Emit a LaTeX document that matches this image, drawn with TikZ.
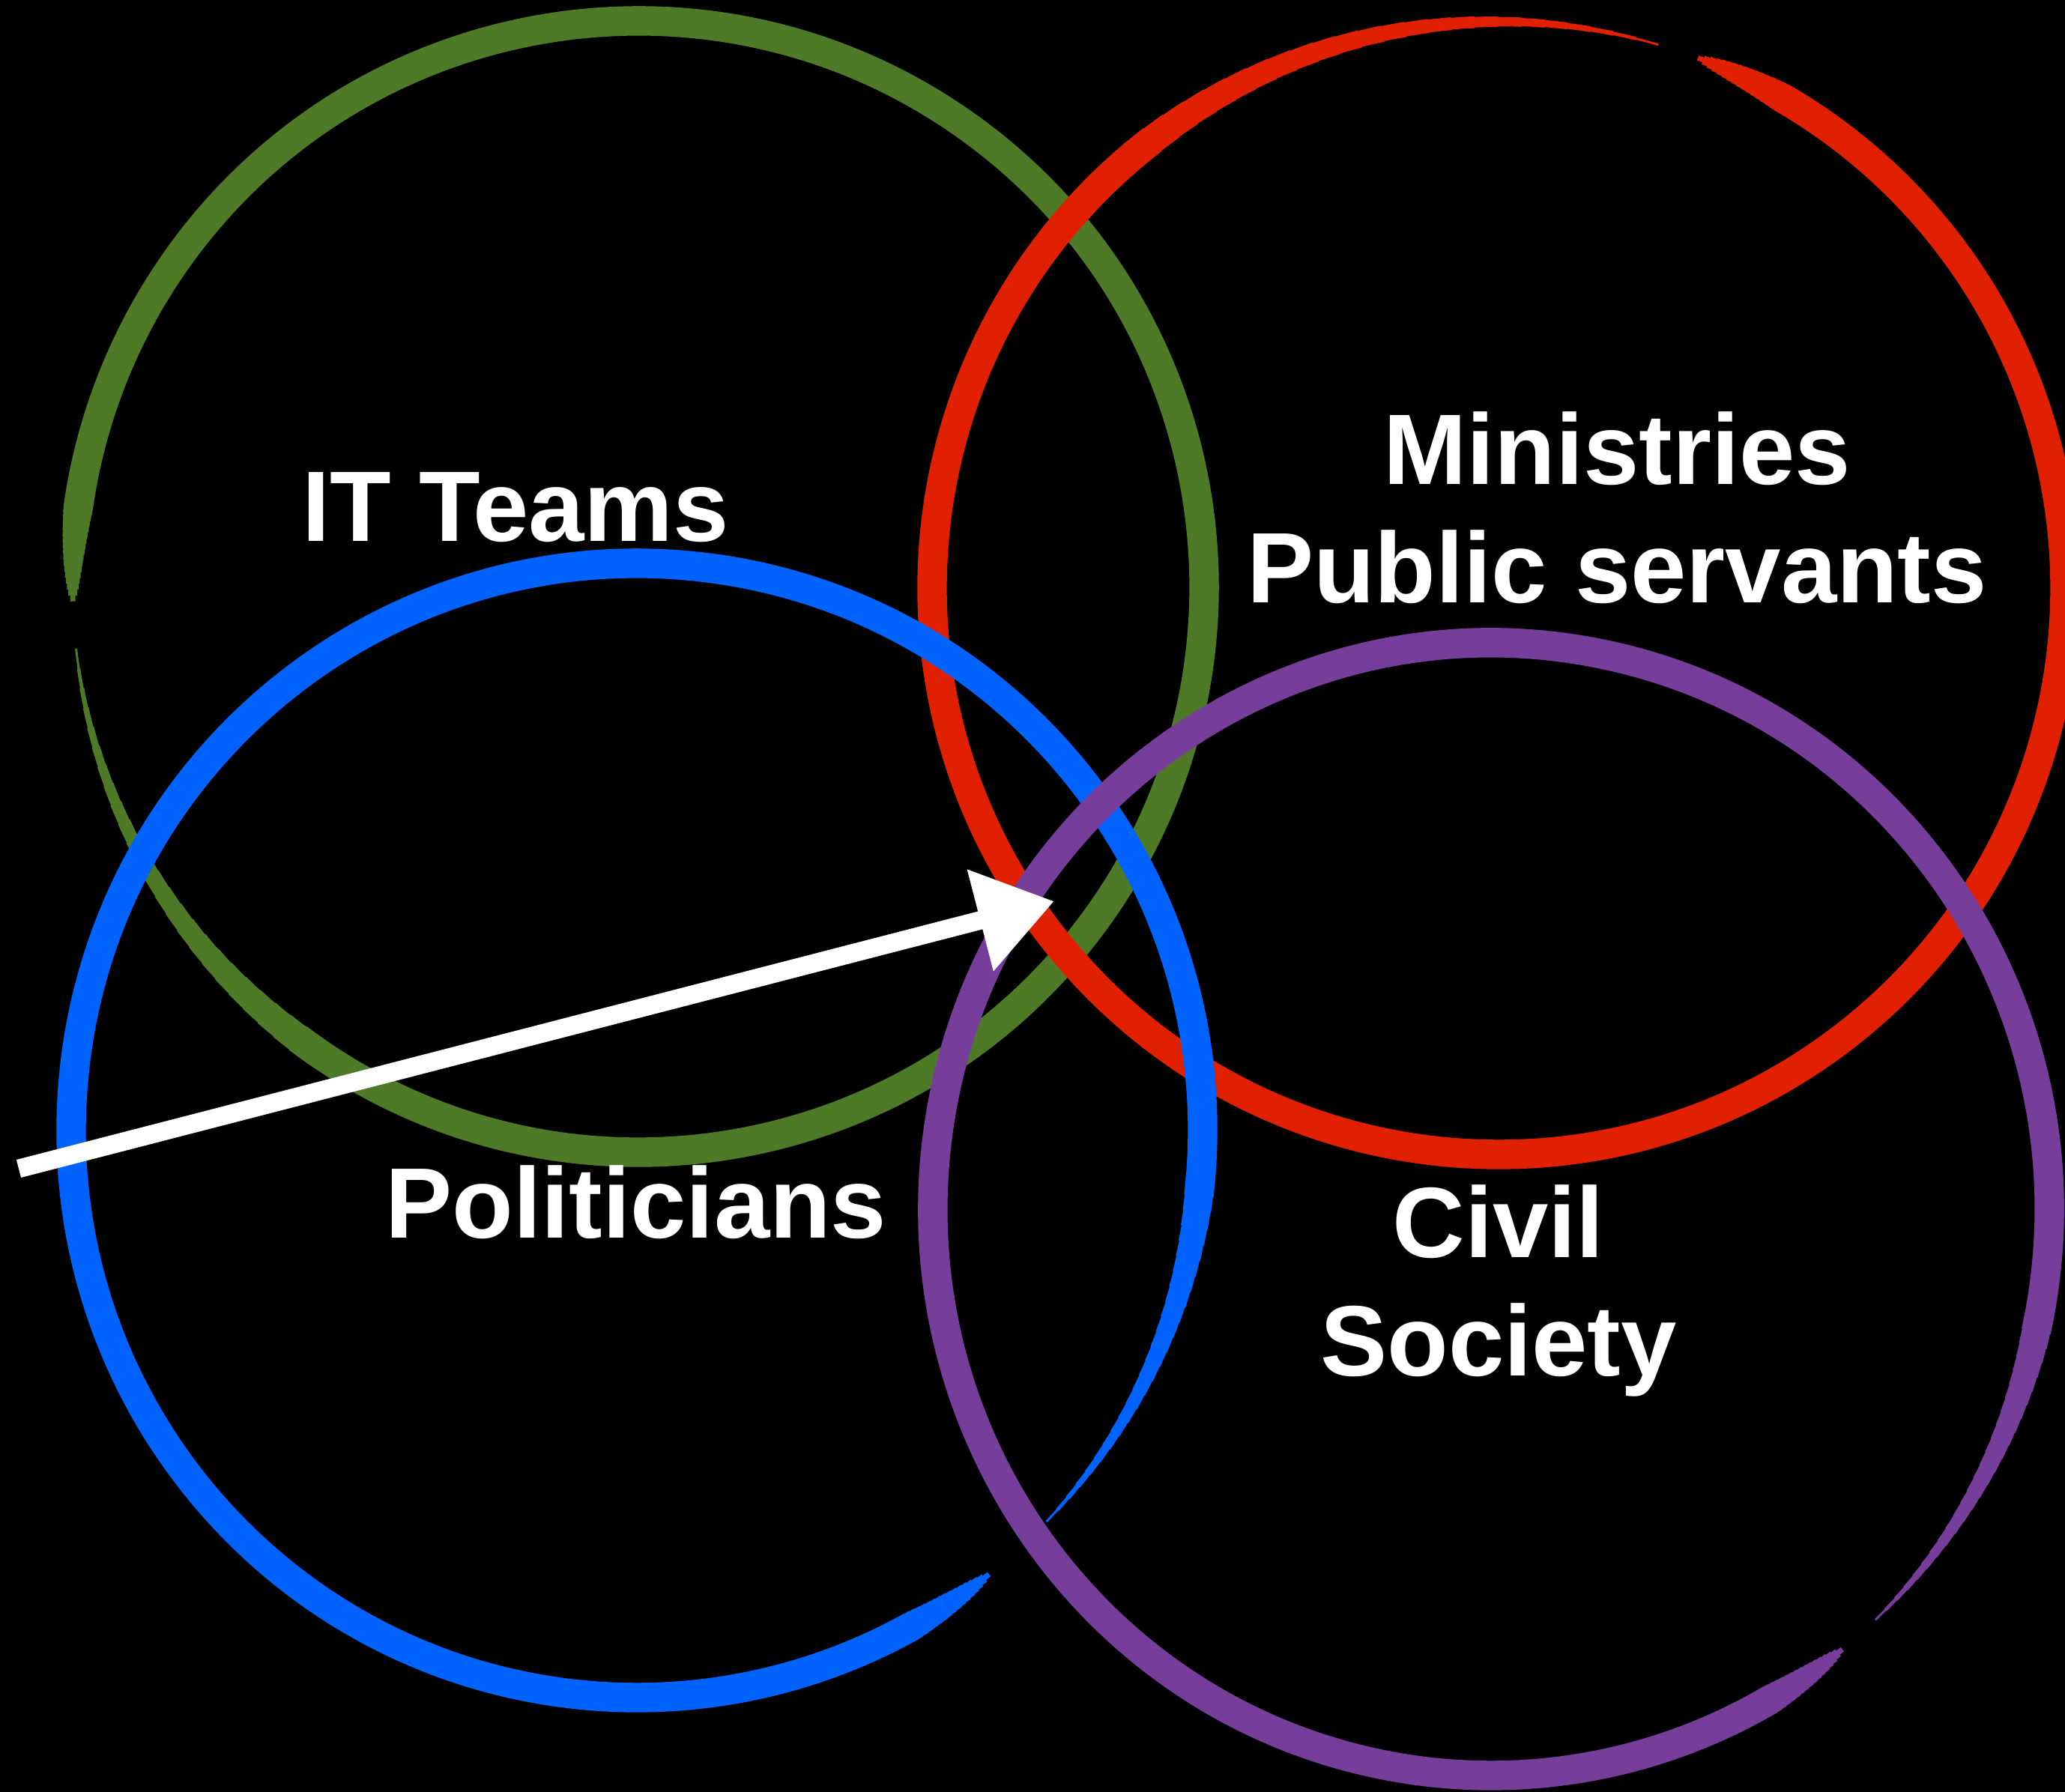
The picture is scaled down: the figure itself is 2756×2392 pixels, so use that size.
\documentclass[tikz,border=0pt]{standalone}
\usepackage{fontspec}
\setmainfont{Liberation Sans}
\usepackage{tikz}
\usetikzlibrary{arrows.meta}
\definecolor{ringgreen}{HTML}{4E7A28}
\definecolor{ringred}{HTML}{E02000}
\definecolor{ringblue}{HTML}{0062FF}
\definecolor{ringpurple}{HTML}{773D9B}
\tikzset{
  grouptext/.style={text=white, align=center, inner sep=0pt, font=\bfseries\fontsize{38}{45}\selectfont},
  chalk/.style={draw=white, line width=7pt, -{Triangle[length=29pt, width=38pt]}}
}
\newcommand{\ringw}{11.2}
% #1 centre, #2 colour, #3/#4 radii, #5 thin start, #6 full width, #7 taper, #8 end
\newcommand{\brushring}[8]{%
  \foreach \k in {1,...,24}{
    \pgfmathsetmacro{\ra}{#5+(#6-#5)*(\k-1)/24}
    \pgfmathsetmacro{\rb}{#5+(#6-#5)*\k/24+0.2}
    \pgfmathsetmacro{\rw}{0.4+(\ringw-0.4)*\k/24}
    \draw[#2, line width=\rw pt] (#1) ++(\ra:#3 and #4) arc[start angle=\ra, end angle=\rb, x radius=#3, y radius=#4];
  }
  \draw[#2, line width=\ringw pt] (#1) ++(#6:#3 and #4) arc[start angle=#6, end angle=#7, x radius=#3, y radius=#4];
  \foreach \k in {1,...,16}{
    \pgfmathsetmacro{\ra}{#7+(#8-#7)*(\k-1)/16-0.2}
    \pgfmathsetmacro{\rb}{#7+(#8-#7)*\k/16}
    \pgfmathsetmacro{\rw}{\ringw*sqrt(1-(\k-0.5)/16)}
    \draw[#2, line width=\rw pt] (#1) ++(\ra:#3 and #4) arc[start angle=\ra, end angle=\rb, x radius=#3, y radius=#4];
  }
}

\begin{document}
\begin{tikzpicture}[x=0.01cm, y=0.01cm]
  \useasboundingbox (0,0) rectangle (2756,2392);
  \fill[black] (0,0) rectangle (2756,2392);
  \clip (0,0) rectangle (2756,2392);

  \coordinate (green) at (852,1609);
  \coordinate (red) at (2000,1607);
  \coordinate (blue) at (850,883);
  \coordinate (purple) at (1990,778);

  % the four rings
  \brushring{green}{ringgreen}{755}{755}{-173.7}{-125}{172}{181.5}
  \brushring{red}{ringred}{756}{756}{-286.4}{-230}{60}{69.4}
  \brushring{blue}{ringblue}{755}{757}{-43.6}{-5}{299}{308.5}
  \brushring{purple}{ringpurple}{745}{756}{-46.5}{-11}{300}{309}

  \node[grouptext] (itteams) at (688,1715) {IT Teams};
  \node[grouptext] (ministries) at (2158,1714) {Ministries\\Public servants};
  \node[grouptext] (politicians) at (849,787) {Politicians};
  \node[grouptext] (civil) at (2000,669) {Civil\\Society};

  \coordinate (tail) at (25,832);
  \coordinate (tip) at (1407,1189);
  \draw[chalk] (tail) -- (tip);
\end{tikzpicture}
\end{document}
